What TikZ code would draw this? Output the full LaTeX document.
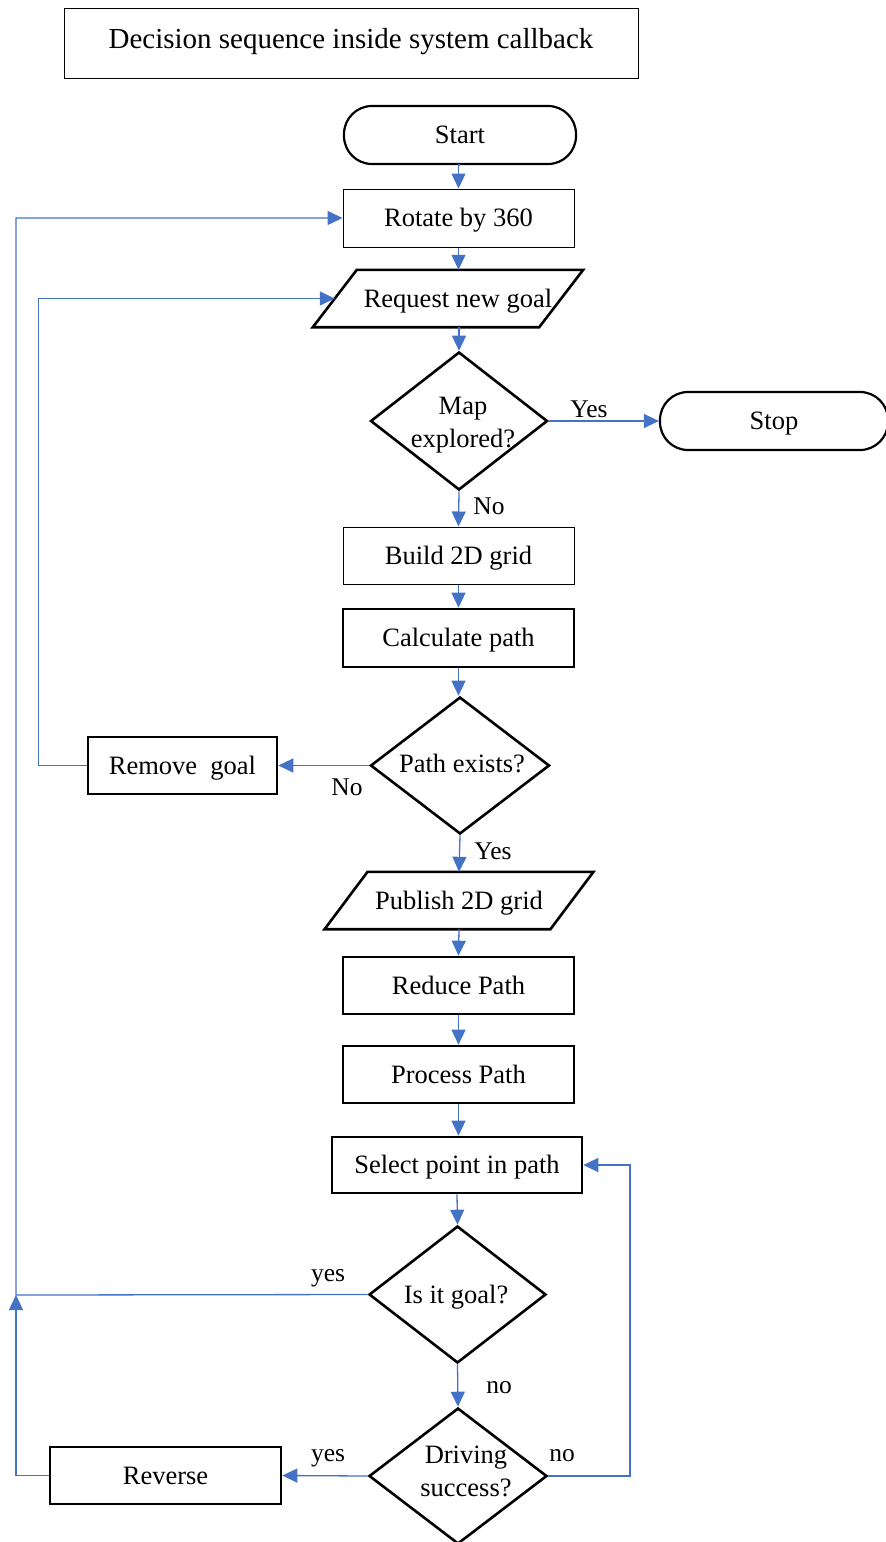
\documentclass[tikz,border=0pt]{standalone}
\usepackage{fontspec}
\setmainfont{Liberation Serif}
\usetikzlibrary{shapes.geometric,arrows.meta,calc}
\definecolor{flowblue}{HTML}{4472C4}
\begin{document}
\begin{tikzpicture}[x=1pt,y=-1pt,
  every node/.style={font=\fontsize{26.5}{31}\selectfont, inner sep=0pt},
  tx/.style={text height=17.5pt, text depth=0pt},
  thinbox/.style={rectangle, draw, line width=1pt, minimum width=231pt, minimum height=58pt, tx},
  boldbox/.style={rectangle, draw, line width=2.6pt, minimum width=231pt, minimum height=57pt, tx},
  terminal/.style={rectangle, draw, line width=2.2pt, rounded corners=28pt, minimum height=58pt, tx},
  decision/.style={diamond, draw, line width=2.6pt, minimum width=177pt, minimum height=137pt},
  ioframe/.style={rectangle, minimum width=226pt, minimum height=57pt, tx},
  ioline/.style={line width=2.6pt, line join=miter},
  flow/.style={draw=flowblue, line width=1.3pt, -{Triangle[length=15pt,width=14pt]}},
  lbl/.style={font=\fontsize{25.5}{30}\selectfont, tx}
]
\useasboundingbox (0,0) rectangle (886,1542);

% title
\node[rectangle, draw, line width=1pt, minimum width=574pt, minimum height=70pt,
      text height=19pt, text depth=8pt,
      font=\fontsize{29}{34}\selectfont] (title) at (351,43) {Decision sequence inside system callback};

% main column
\node[terminal, minimum width=232pt] (start) at (460,135) {Start};
\node[thinbox] (rotate) at (458.5,218) {Rotate by 360};

\node[ioframe] (req) at (448,298.5) {};
\node[tx] at ([xshift=10pt]req.center) {Request new goal};
\draw[ioline] ([xshift=22pt]req.north west) -- ([xshift=22pt]req.north east)
  -- ([xshift=-22pt]req.south east) -- ([xshift=-22pt]req.south west) -- cycle;

\node[decision, minimum width=177pt, minimum height=138pt] (map) at (459,421) {};
\node[align=center] at (463,425) {Map\\[2pt]explored?};
\node[terminal, minimum width=228pt] (stop) at (774,421) {Stop};

\node[thinbox, minimum height=57pt] (build) at (458.5,555.5) {Build 2D grid};
\node[boldbox, minimum height=58pt] (calc) at (458.5,638) {Calculate path};

\node[decision, minimum width=179pt] (path) at (460,765.5) {};
\node[tx] at (462,764) {Path exists?};
\node[boldbox, minimum width=189pt] (remove) at (182.5,765.5) {Remove\ \ goal};

\node[ioframe, minimum width=225.5pt] (pub) at (459,900.5) {Publish 2D grid};
\draw[ioline] ([xshift=21.5pt]pub.north west) -- ([xshift=21.5pt]pub.north east)
  -- ([xshift=-21.5pt]pub.south east) -- ([xshift=-21.5pt]pub.south west) -- cycle;

\node[boldbox] (reduce) at (458.5,985.5) {Reduce Path};
\node[boldbox] (process) at (458.5,1074.5) {Process Path};
\node[boldbox, minimum width=250pt, minimum height=56pt] (select) at (457,1165) {Select point in path};

\node[decision] (isgoal) at (457.5,1294.5) {};
\node[tx] at (456,1295) {Is it goal?};

\node[decision, minimum width=178pt, minimum height=136pt] (drive) at (458,1476) {};
\node[align=center] at (466,1471) {Driving\\[2pt]success?};
\node[boldbox] (reverse) at (165.5,1475.5) {Reverse};

% branch labels
\node[lbl] (l1) at (589,409) {Yes};
\node[lbl] (l2) at (489,506) {No};
\node[lbl] (l3) at (347,787) {No};
\node[lbl] (l4) at (493,851) {Yes};
\node[lbl] (l5) at (328,1273) {yes};
\node[lbl] (l6) at (499,1385) {no};
\node[lbl] (l7) at (328,1453) {yes};
\node[lbl] (l8) at (562,1453) {no};

% bends of the return lines
\coordinate (jn) at (16,1295);
\coordinate (rb) at (630,1476);

% straight flow
\draw[flow] (start.south) -- (rotate.south |- start.south) -- (rotate.north);
\draw[flow] (rotate.south) -- (rotate.south |- req.north);
\draw[flow] (map.north |- req.south) -- (map.north);
\draw[flow] (map.east) -- (stop.west);
\draw[flow] (map.south) -- (build.north);
\draw[flow] (build.south) -- (calc.north);
\draw[flow] (calc.south) -- (path.north -| calc.south);
\draw[flow] (path.west) -- (remove.east);
\draw[flow] (path.south) -- (pub.north);
\draw[flow] (pub.south) -- (reduce.north);
\draw[flow] (reduce.south) -- (process.north);
\draw[flow] (process.south) -- (select.north -| process.south);
\draw[flow] (select.south) -- (isgoal.north);
\draw[flow] (isgoal.south) -- (drive.north);
\draw[flow] (drive.west) -- (reverse.east);

% return lines
\draw[flow] (remove.west) -- ++(-48,0) |- (req.west);
\draw[flow] (isgoal.west) -- (jn) |- (rotate.west);
\draw[flow] (reverse.west) -| (jn);
\draw[flow] (drive.east) -- (rb) |- (select.east);
\end{tikzpicture}
\end{document}
